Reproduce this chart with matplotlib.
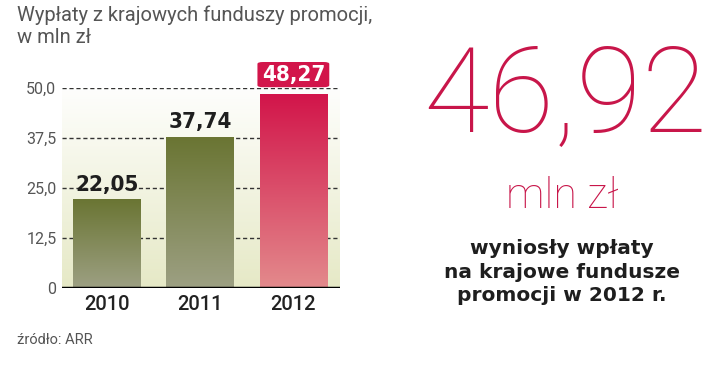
import matplotlib
matplotlib.use("Agg")
import matplotlib.pyplot as plt
import numpy as np
from matplotlib.colors import LinearSegmentedColormap
from matplotlib.patches import FancyBboxPatch

# data
years = ["2010", "2011", "2012"]
values = [22.05, 37.74, 48.27]
value_labels = ["22,05", "37,74", "48,27"]
yticks = [0, 12.5, 25.0, 37.5, 50.0]
ytick_labels = ["0", "12,5", "25,0", "37,5", "50,0"]

title = "Wypłaty z krajowych funduszy promocji,\nw mln zł"
source = "źródło: ARR"
big_number = "46,92"
big_unit = "mln zł"
note = "wyniosły wpłaty\nna krajowe fundusze\npromocji w 2012 r."

W, H = 720, 365
fig = plt.figure(figsize=(W / 100, H / 100), dpi=100)
fig.patch.set_facecolor("white")

ax = fig.add_axes([62 / W, (H - 288) / H, (340 - 62) / W, 200 / H])
ax.set_xlim(-0.48, 2.5)
ax.set_ylim(0, 50)
for s in ax.spines.values():
    s.set_visible(False)

# background gradient: pale green at the bottom fading to white at top
bg = LinearSegmentedColormap.from_list("bg", ["#e6e9c6", "#ffffff"])
ax.imshow(np.linspace(0, 1, 256).reshape(-1, 1), cmap=bg, extent=[-0.48, 2.5, 0, 52],
          origin="lower", aspect="auto", zorder=0)

green = LinearSegmentedColormap.from_list("g", ["#9da083", "#6a7533"])
red = LinearSegmentedColormap.from_list("r", ["#e38a8c", "#d2154a"])
width = 0.72
grad = np.linspace(0, 1, 256).reshape(-1, 1)
for i, v in enumerate(values):
    cm = red if i == 2 else green
    ax.imshow(grad, cmap=cm, extent=[i - width / 2, i + width / 2, 0, v],
              origin="lower", aspect="auto", zorder=2)

# dashed gridlines
for t in yticks[1:]:
    ax.axhline(t, color="#333333", lw=1.0, ls=(0, (3, 2)), zorder=1)
ax.axhline(0, color="black", lw=2.5, zorder=4)

ax.set_yticks(yticks)
ax.set_yticklabels(ytick_labels, fontsize=11.5, color="#555555", family="Roboto")
ax.tick_params(axis="y", length=0, pad=4)
ax.set_xticks(range(len(years)))
ax.set_xticklabels(years, fontsize=14.5, color="#222222", family="Roboto", fontweight="medium")
ax.tick_params(axis="x", length=0, pad=5)

for i, (v, lab) in enumerate(zip(values, value_labels)):
    if i == 2:
        box = FancyBboxPatch((i - 0.385, 50.2), 0.77, 6.3,
                             boxstyle="round,pad=0,rounding_size=0.06",
                             fc="#d2154a", ec="none", clip_on=False, zorder=5,
                             mutation_aspect=8)
        ax.add_patch(box)
        ax.text(i, 53.3, lab, ha="center", va="center", color="white",
                fontsize=16, fontweight="bold", fontstretch="condensed", zorder=6)
    else:
        ax.text(i, v + 1.2, lab, ha="center", va="bottom", color="#1e1e1e",
                fontsize=16, fontweight="bold", fontstretch="condensed", zorder=6)

fig.text(17 / W, 1 - 5 / H, title, ha="left", va="top", fontsize=14.5,
         color="#555555", family="Roboto", linespacing=1.2)
fig.text(17 / W, 1 - 340 / H, source, ha="left", va="center", fontsize=10.5,
         color="#555555", family="Roboto")

fig.text(565 / W, 1 - 99 / H, big_number, ha="center", va="center", fontsize=86,
         color="#c8164a", family="Roboto", fontweight="light")
fig.text(562 / W, 1 - 197 / H, big_unit, ha="center", va="center", fontsize=31,
         color="#c8164a", family="Roboto", fontweight="light")
fig.text(562 / W, 1 - 272 / H, note, ha="center", va="center", fontsize=14.5,
         color="#1e1e1e", fontweight="bold", linespacing=1.3)

fig.savefig("out.png", dpi=100)
